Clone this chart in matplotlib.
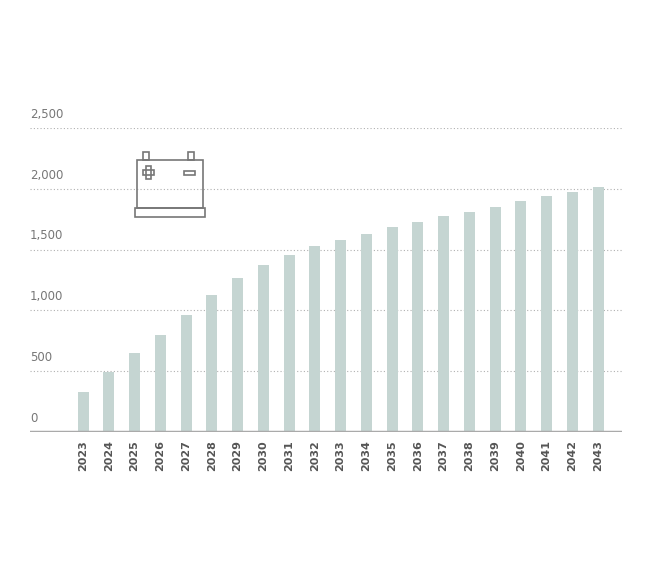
import matplotlib.pyplot as plt
from matplotlib.patches import Rectangle
from matplotlib.lines import Line2D

years = [str(y) for y in range(2023, 2044)]
values = [329, 493, 650, 798, 962, 1127, 1266, 1373, 1456, 1530, 1579,
          1628, 1686, 1727, 1776, 1809, 1850, 1900, 1941, 1974, 2015]
yticks = [0, 500, 1000, 1500, 2000, 2500]

W, H = 646, 563
fig = plt.figure(figsize=(W / 100, H / 100), dpi=100)
ax = fig.add_axes([30 / W, 1 - 432 / H, 592 / W, 304 / H])

x = list(range(len(years)))
ax.bar(x, values, width=0.43, color="#c5d5d2", zorder=2)
ax.set_xlim(-2.06, 20.93)
ax.set_ylim(0, 2500)

for t in yticks[1:]:
    ax.axhline(t, color="#b0b0b0", lw=0.8, ls=(0, (1, 2)), zorder=1)
    ax.text(0, t + 60, f"{t:,}", transform=ax.get_yaxis_transform(),
            fontsize=8.5, color="#777777", va="bottom")
ax.text(0, 60, "0", transform=ax.get_yaxis_transform(),
        fontsize=8.5, color="#777777", va="bottom")
ax.axhline(0, color="#aaaaaa", lw=2.5, zorder=3)

ax.set_yticks([])
ax.set_xticks(x)
ax.set_xticklabels(years, rotation=90, fontsize=8, color="#555555", fontweight="bold")
ax.tick_params(axis="x", length=0, pad=6)
for s in ax.spines.values():
    s.set_visible(False)

# battery icon (pixel coords, origin top-left)
def px(xp, yp):
    return xp / W, 1 - yp / H
ic = "#777777"
def rect(x0, y0, x1, y1):
    fx, fy = px(x0, y1)
    fig.add_artist(Rectangle((fx, fy), (x1 - x0) / W, (y1 - y0) / H,
                             transform=fig.transFigure, fill=False, ec=ic, lw=1.2))
def line(x0, y0, x1, y1):
    a, b = px(x0, y0)
    c, d = px(x1, y1)
    fig.add_artist(Line2D([a, c], [b, d], transform=fig.transFigure, color=ic, lw=1.2))
rect(137, 160, 203, 208)
rect(135, 208, 205, 217)
rect(143, 152, 149, 160)
rect(188, 152, 194, 160)
rect(143, 170, 154, 175)
rect(146, 166, 151, 179)
rect(184, 171, 195, 175)

fig.savefig("out.png", dpi=100)
